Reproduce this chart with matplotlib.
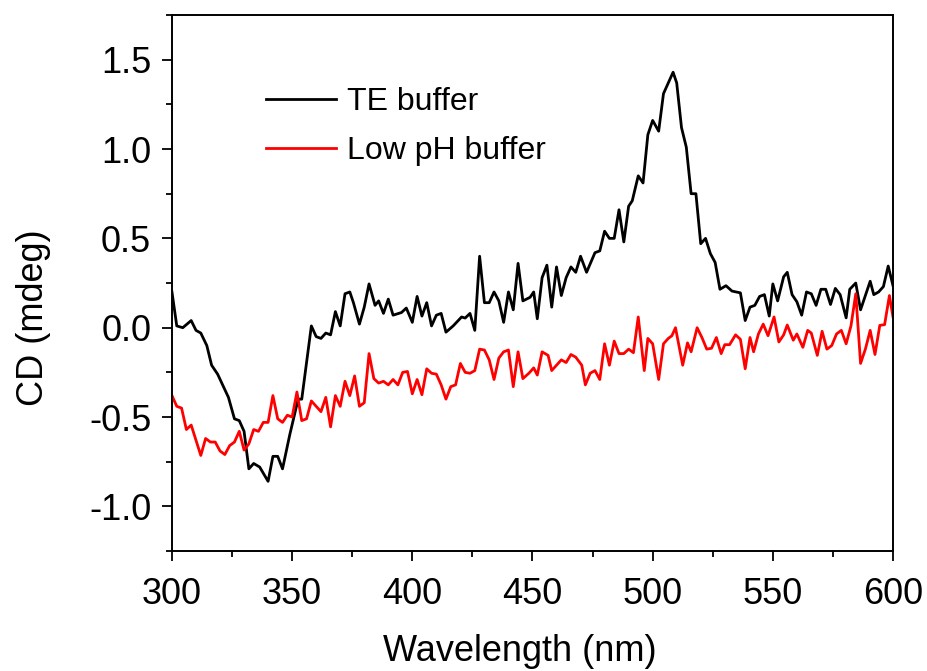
import numpy as np
import matplotlib
matplotlib.use("Agg")
import matplotlib.pyplot as plt
from matplotlib.ticker import MultipleLocator

plt.rcParams['font.family'] = ['Liberation Sans', 'DejaVu Sans']
plt.rcParams['axes.unicode_minus'] = False

# TE buffer trace (wavelength nm, CD mdeg)
te_wl = [300, 302, 304.5, 308, 310, 312, 314.5, 316.5, 319, 323.5, 326, 328, 330, 332, 334, 336.5,
         340, 342, 344, 346, 349, 352.5, 354, 358, 360, 362, 364, 366, 368, 370, 372, 374, 375.5,
         378, 380, 382, 384.5, 386, 388, 390, 392, 395.5, 397.5, 400, 402, 404, 406, 408, 410, 412,
         414, 417, 420.5, 422, 424, 426, 428, 430, 432, 434, 436, 438, 440, 442, 444, 446, 449,
         450.5, 452, 454, 456, 458, 460, 462, 464, 466, 468, 470, 472.5, 476, 478, 480, 482, 484,
         486, 488, 490, 491.5, 494, 496, 498, 500, 502.5, 504.5, 506.5, 508.5, 510, 512, 514, 516,
         518, 520, 522, 524, 526, 528, 530.5, 533, 536.5, 538.5, 540.5, 542.5, 544.5, 546.5, 548.5,
         550, 552, 554.5, 556, 558, 560, 562, 564, 566, 568, 570, 572, 574, 576, 578, 580.5, 582,
         584.5, 586.5, 590.5, 592, 594, 596, 598, 600]
te_cd = [0.20, 0.01, 0.0, 0.04, -0.015, -0.03, -0.10, -0.21, -0.26, -0.39, -0.51, -0.52, -0.58, -0.79,
         -0.76, -0.78, -0.86, -0.72, -0.72, -0.79, -0.60, -0.40, -0.40, 0.01, -0.05, -0.06, -0.03,
         -0.04, 0.09, 0.01, 0.19, 0.20, 0.14, 0.02, 0.115, 0.245, 0.125, 0.15, 0.08, 0.16, 0.07,
         0.085, 0.11, 0.03, 0.175, 0.065, 0.14, 0.01, 0.07, 0.08, -0.025, 0.01, 0.06, 0.054, 0.08,
         -0.015, 0.40, 0.14, 0.14, 0.20, 0.15, 0.03, 0.20, 0.10, 0.36, 0.15, 0.17, 0.20, 0.05, 0.28,
         0.35, 0.115, 0.34, 0.18, 0.28, 0.34, 0.31, 0.40, 0.31, 0.42, 0.43, 0.54, 0.50, 0.50, 0.66,
         0.48, 0.68, 0.71, 0.85, 0.81, 1.08, 1.16, 1.10, 1.31, 1.37, 1.43, 1.37, 1.12, 1.01, 0.75,
         0.75, 0.47, 0.50, 0.415, 0.365, 0.215, 0.235, 0.205, 0.195, 0.04, 0.115, 0.125, 0.175,
         0.185, 0.065, 0.245, 0.15, 0.285, 0.31, 0.185, 0.145, 0.07, 0.20, 0.19, 0.125, 0.215,
         0.215, 0.13, 0.22, 0.185, 0.055, 0.215, 0.25, 0.10, 0.26, 0.185, 0.20, 0.23, 0.345, 0.235]

# Low pH buffer trace
lp_wl = [300, 302, 304, 306, 308, 310, 312, 314, 316, 318, 320, 322, 324, 326, 328, 330, 332, 334,
         336, 338, 340, 342, 344, 346, 348, 350, 352, 354, 356, 358, 360, 362, 364, 366, 368, 370,
         372, 374, 376, 378, 380, 382, 384, 386, 388, 390, 392, 394, 396, 398, 400, 402, 404, 406,
         408, 410, 412, 414, 416, 418, 420, 422, 424, 426, 428, 430, 432, 434, 436, 438, 440, 442,
         444, 446, 448.5, 450.5, 452, 454, 456.5, 458, 460, 462, 464, 466, 468, 470.5, 472, 474,
         476, 478, 480, 482, 484, 486, 488, 490, 492, 494, 496.5, 498, 500, 502.5, 504.5, 506.5,
         508, 509.5, 512.5, 514.5, 516, 518.5, 520.5, 522.5, 524.5, 526.5, 528.5, 530, 532, 534.5,
         536.5, 538.5, 540.5, 542, 544, 546, 548, 550.5, 552.5, 554.5, 556, 558.5, 560, 562.5,
         564.5, 566, 568.5, 570.5, 572.5, 574.5, 576.5, 578.5, 580.5, 582.5, 584.5, 586.5, 588.5,
         590.5, 592.5, 594.5, 596.5, 598.5, 600]
lp_cd = [-0.38, -0.44, -0.45, -0.57, -0.545, -0.63, -0.715, -0.62, -0.64, -0.64, -0.69, -0.71, -0.66,
         -0.64, -0.58, -0.685, -0.65, -0.57, -0.58, -0.53, -0.53, -0.38, -0.51, -0.53, -0.49, -0.50,
         -0.36, -0.52, -0.51, -0.41, -0.44, -0.47, -0.39, -0.555, -0.38, -0.44, -0.30, -0.38, -0.27,
         -0.44, -0.42, -0.145, -0.285, -0.31, -0.30, -0.32, -0.29, -0.32, -0.25, -0.245, -0.37,
         -0.29, -0.375, -0.23, -0.255, -0.26, -0.32, -0.40, -0.33, -0.32, -0.20, -0.25, -0.255,
         -0.24, -0.12, -0.125, -0.18, -0.29, -0.17, -0.135, -0.125, -0.33, -0.135, -0.285, -0.255,
         -0.225, -0.265, -0.135, -0.155, -0.24, -0.21, -0.18, -0.195, -0.15, -0.165, -0.21, -0.32,
         -0.255, -0.24, -0.29, -0.09, -0.21, -0.075, -0.145, -0.145, -0.12, -0.14, 0.06, -0.24,
         -0.06, -0.09, -0.29, -0.09, -0.06, -0.045, 0.0, -0.21, -0.085, -0.135, 0.0, -0.055, -0.12,
         -0.115, -0.055, -0.145, -0.095, -0.095, -0.04, -0.065, -0.23, -0.055, -0.135, -0.035,
         0.02, -0.045, 0.06, -0.08, -0.04, 0.015, -0.07, -0.035, -0.11, -0.015, -0.03, -0.155,
         -0.02, -0.12, -0.10, -0.035, -0.015, -0.09, 0.01, 0.19, -0.20, -0.12, -0.015, -0.15,
         0.013, 0.017, 0.18, 0.06]

fig = plt.figure(figsize=(9.28, 6.71), dpi=100)
ax = fig.add_axes([0.1853, 0.1788, 0.777, 0.7988])

ax.plot(te_wl, te_cd, color='black', lw=2.0, label='TE buffer')
ax.plot(lp_wl, lp_cd, color='#ff0000', lw=2.0, label='Low pH buffer')

ax.set_xlim(300, 600)
ax.set_ylim(-1.25, 1.75)
ax.xaxis.set_major_locator(MultipleLocator(50))
ax.xaxis.set_minor_locator(MultipleLocator(25))
ax.yaxis.set_major_locator(MultipleLocator(0.5))
ax.yaxis.set_minor_locator(MultipleLocator(0.25))
ax.yaxis.set_major_formatter(plt.FormatStrFormatter('%.1f'))

for s in ax.spines.values():
    s.set_linewidth(1.4)
ax.tick_params(which='major', direction='out', length=7, width=1.3, labelsize=26)
ax.tick_params(axis='x', which='major', pad=12)
ax.tick_params(axis='y', which='major', pad=8)
ax.tick_params(which='minor', direction='out', length=4, width=1.3)

ax.set_xlabel('Wavelength (nm)', fontsize=26)
ax.set_ylabel('CD (mdeg)', fontsize=26)
ax.xaxis.set_label_coords(0.483, -0.155)
ax.yaxis.set_label_coords(-0.168, 0.435)

ax.legend(loc='upper left', bbox_to_anchor=(0.130, 0.866), frameon=False, fontsize=23,
          handlelength=2.2, handletextpad=0.35, labelspacing=0.6, borderpad=0, borderaxespad=0)

fig.savefig('out.png', dpi=100)
